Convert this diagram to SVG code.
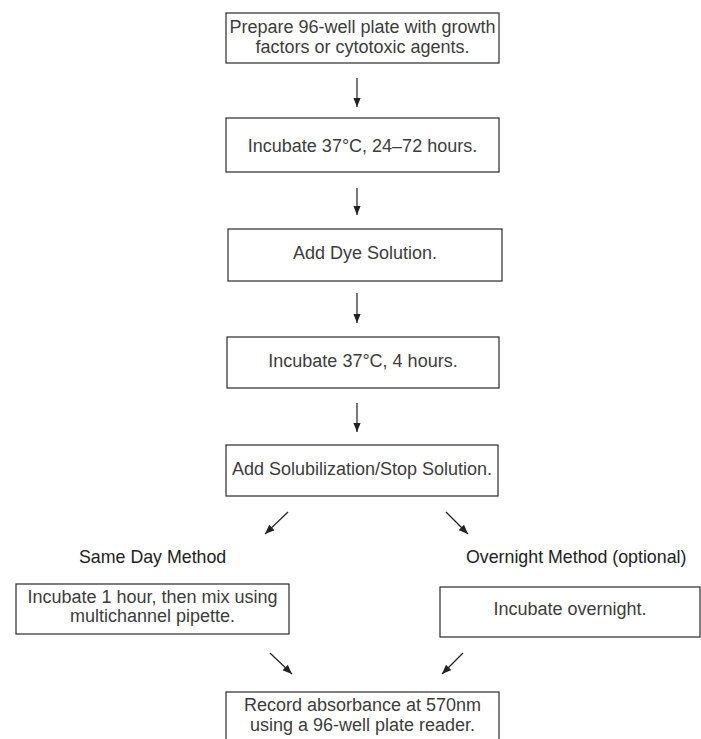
<svg xmlns="http://www.w3.org/2000/svg" width="701" height="739" viewBox="0 0 701 739">
<style>
.box{fill:#fff;stroke:#2a2a2a;stroke-width:1.2}
.t{font-family:"Liberation Sans",Arial,sans-serif;font-size:18px;fill:#3c3c3c;text-anchor:middle}
.lbl{font-family:"Liberation Sans",Arial,sans-serif;font-size:17.8px;fill:#222}
.c{stroke:#222;stroke-width:1.2;fill:none;marker-end:url(#ah)}
</style>
<defs>
<marker id="ah" viewBox="0 0 10 8" refX="10" refY="4" markerWidth="9.5" markerHeight="7.5" markerUnits="userSpaceOnUse" orient="auto">
<path d="M0,0 L10,4 L0,8 Z" fill="#222"/>
</marker>
</defs>
<rect width="701" height="739" fill="#fff"/>
<g id="n1"><rect class="box" x="226" y="13" width="273" height="50"/><text class="t" x="362.5" y="33">Prepare 96-well plate with growth</text><text class="t" x="362.5" y="53">factors or cytotoxic agents.</text></g>
<g id="n2"><rect class="box" x="226" y="118" width="273" height="54"/><text class="t" x="362.5" y="151.5">Incubate 37°C, 24–72 hours.</text></g>
<g id="n3"><rect class="box" x="228" y="229" width="274" height="52"/><text class="t" x="365" y="258.5">Add Dye Solution.</text></g>
<g id="n4"><rect class="box" x="227" y="337" width="272" height="51"/><text class="t" x="363" y="367">Incubate 37°C, 4 hours.</text></g>
<g id="n5"><rect class="box" x="226" y="445" width="272" height="51"/><text class="t" x="362" y="475">Add Solubilization/Stop Solution.</text></g>
<g id="l1"><text class="lbl" x="79" y="563">Same Day Method</text></g>
<g id="l2"><text class="lbl" x="466" y="563">Overnight Method (optional)</text></g>
<g id="n6"><rect class="box" x="16" y="584" width="273" height="50"/><text class="t" x="152.5" y="603">Incubate 1 hour, then mix using</text><text class="t" x="152.5" y="622">multichannel pipette.</text></g>
<g id="n7"><rect class="box" x="440" y="587" width="260" height="50"/><text class="t" x="570" y="615">Incubate overnight.</text></g>
<g id="n8"><rect class="box" x="226" y="692" width="273" height="52"/><text class="t" x="362.5" y="711">Record absorbance at 570nm</text><text class="t" x="362.5" y="731">using a 96-well plate reader.</text></g>
<g id="connectors">
<line class="c" x1="357" y1="78" x2="357" y2="107"/>
<line class="c" x1="357" y1="188" x2="357" y2="215"/>
<line class="c" x1="357" y1="293" x2="357" y2="323"/>
<line class="c" x1="357" y1="403" x2="357" y2="432"/>
<line class="c" x1="288" y1="512" x2="265" y2="534"/>
<line class="c" x1="446" y1="512" x2="468" y2="534"/>
<line class="c" x1="270" y1="653" x2="292" y2="674"/>
<line class="c" x1="463" y1="653" x2="442" y2="674"/>
</g>
</svg>
